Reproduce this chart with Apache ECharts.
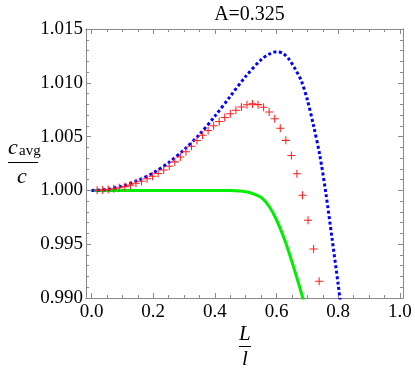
<!DOCTYPE html>
<html>
<head>
<meta charset="utf-8">
<script src="https://cdn.jsdelivr.net/npm/echarts@6/dist/echarts.min.js"></script>
<style>
html, body { margin: 0; padding: 0; background: #fff; }
#chart { width: 415px; height: 374px; }
</style>
</head>
<body>
<div id="chart"></div>
<script>
// values
var redX = [0.018, 0.036, 0.054, 0.072, 0.090, 0.108, 0.126, 0.144, 0.162, 0.180,
            0.198, 0.216, 0.234, 0.252, 0.270, 0.288, 0.306, 0.324, 0.342, 0.360,
            0.378, 0.396, 0.414, 0.432, 0.450, 0.468, 0.486, 0.504, 0.522, 0.540,
            0.558, 0.576, 0.594, 0.612, 0.630, 0.648, 0.666, 0.684, 0.702, 0.720, 0.738];
var redY = [1.00001, 1.00004, 1.00009, 1.00015, 1.00024, 1.00035, 1.00049, 1.00066, 1.00086, 1.00109,
            1.00132, 1.00158, 1.00190, 1.00225, 1.00265, 1.00310, 1.00360, 1.00410, 1.00463, 1.00513,
            1.00557, 1.00600, 1.00640, 1.00678, 1.00712, 1.00745, 1.00776, 1.00796, 1.00804, 1.00797,
            1.00772, 1.00728, 1.00665, 1.00578, 1.00465, 1.00325, 1.00155, 0.99955, 0.99722, 0.99455, 0.99155];

var blueX = [0, 0.05, 0.10, 0.15, 0.20, 0.25, 0.30, 0.35, 0.40, 0.45, 0.50, 0.55, 0.575,
             0.60, 0.62, 0.64, 0.66, 0.68, 0.70, 0.72, 0.74, 0.76, 0.78, 0.80, 0.82];
var blueY = [1.00000, 1.00010, 1.00040, 1.00092, 1.00163, 1.00258, 1.00378, 1.00520, 1.00690, 1.00875,
             1.01060, 1.01215, 1.01265, 1.01288, 1.01275, 1.01220, 1.01130, 1.01020, 1.00840, 1.00600,
             1.00330, 0.99970, 0.99550, 0.99120, 0.98660];

var greenX = [0, 0.1, 0.2, 0.3, 0.4, 0.45, 0.5, 0.525, 0.55, 0.575, 0.6, 0.625, 0.65, 0.675, 0.7];
var greenY = [1.0, 1.0, 1.0, 1.0, 1.0, 0.99998, 0.99987, 0.99968, 0.99935, 0.99855,
              0.99725, 0.99550, 0.99335, 0.99100, 0.98840];

var xMajor = [0, 0.2, 0.4, 0.6, 0.8, 1.0];
var xMinor = [0.05, 0.1, 0.15, 0.25, 0.3, 0.35, 0.45, 0.5, 0.55, 0.65, 0.7, 0.75, 0.85, 0.9, 0.95];
var yMajor = [0.990, 0.995, 1.000, 1.005, 1.010, 1.015];
var yMinor = [0.991, 0.992, 0.993, 0.994, 0.996, 0.997, 0.998, 0.999, 1.001, 1.002, 1.003, 1.004,
              1.006, 1.007, 1.008, 1.009, 1.011, 1.012, 1.013, 1.014];

var titleText = 'A=0.325';

function pairs(xs, ys) {
    var out = [];
    for (var i = 0; i < xs.length; i++) {
        out.push([xs[i], ys[i]]);
    }
    return out;
}

var frame = '#8a8a8a';
var serif = 'Liberation Serif';

function xAx(pos, ticks, len, labels) {
    return {
        type: 'value', position: pos, min: -0.018, max: 1.01,
        axisLine: { show: true, onZero: false, lineStyle: { color: frame, width: 1 } },
        axisTick: { show: true, inside: true, length: len, customValues: ticks, lineStyle: { color: frame } },
        axisLabel: labels ? {
            show: true, customValues: ticks, margin: 5, color: '#000',
            fontFamily: serif, fontSize: 19,
            formatter: function (v) { return v.toFixed(1); }
        } : { show: false },
        splitLine: { show: false }
    };
}
function yAx(pos, ticks, len, labels) {
    return {
        type: 'value', position: pos, min: 0.990, max: 1.015,
        axisLine: { show: true, onZero: false, lineStyle: { color: frame, width: 1 } },
        axisTick: { show: true, inside: true, length: len, customValues: ticks, lineStyle: { color: frame } },
        axisLabel: labels ? {
            show: true, customValues: ticks, margin: 3, color: '#000',
            fontFamily: serif, fontSize: 19,
            formatter: function (v) { return v.toFixed(3); }
        } : { show: false },
        splitLine: { show: false }
    };
}

var plusPath = 'path://M-0.13,-1 L0.13,-1 L0.13,-0.13 L1,-0.13 L1,0.13 L0.13,0.13 L0.13,1 L-0.13,1 L-0.13,0.13 L-1,0.13 L-1,-0.13 L-0.13,-0.13 Z';

var chart = echarts.init(document.getElementById('chart'), null, { renderer: 'canvas' });
var option = {
    animation: false,
    backgroundColor: '#fff',
    title: {
        text: titleText, left: 244.5, top: 0, textAlign: 'center',
        textStyle: { fontFamily: serif, fontSize: 20, fontWeight: 'normal', color: '#000' }
    },
    grid: { left: 86, right: 12, top: 29, bottom: 76, containLabel: false },
    xAxis: [
        xAx('bottom', xMajor, 5, true),
        xAx('bottom', xMinor, 3, false),
        xAx('top', xMajor, 5, false),
        xAx('top', xMinor, 3, false)
    ],
    yAxis: [
        yAx('left', yMajor, 5, true),
        yAx('left', yMinor, 3, false),
        yAx('right', yMajor, 5, false),
        yAx('right', yMinor, 3, false)
    ],
    series: [
        {
            type: 'line', data: pairs(greenX, greenY), showSymbol: false, smooth: 0.3,
            lineStyle: { color: '#00ee00', width: 3 }, z: 2, clip: true
        },
        {
            type: 'line', data: pairs(blueX, blueY), showSymbol: false, smooth: 0.3,
            lineStyle: { color: '#0000ff', width: 3, type: [3, 2.5], cap: 'butt' }, z: 3, clip: true
        },
        {
            type: 'scatter', data: pairs(redX, redY), symbol: plusPath, symbolSize: 8,
            itemStyle: { color: '#ff2020', opacity: 1 }, z: 4, clip: true
        }
    ],
    graphic: [
        { type: 'text', left: 8, top: 137, style: { text: 'c', font: 'italic 22px Liberation Serif', fill: '#000' } },
        { type: 'text', left: 19, top: 144, style: { text: 'avg', font: '15px Liberation Serif', fill: '#000' } },
        { type: 'line', shape: { x1: 8, y1: 162.5, x2: 38, y2: 162.5 }, style: { stroke: '#000', lineWidth: 1 } },
        { type: 'text', left: 17, top: 166, style: { text: 'c', font: 'italic 22px Liberation Serif', fill: '#000' } },
        { type: 'text', left: 239, top: 324, style: { text: 'L', font: 'italic 21px Liberation Serif', fill: '#000' } },
        { type: 'line', shape: { x1: 239, y1: 346.5, x2: 251, y2: 346.5 }, style: { stroke: '#000', lineWidth: 1 } },
        { type: 'text', left: 242, top: 349, style: { text: 'l', font: 'italic 21px Liberation Serif', fill: '#000' } }
    ]
};
chart.setOption(option);
</script>
</body>
</html>
